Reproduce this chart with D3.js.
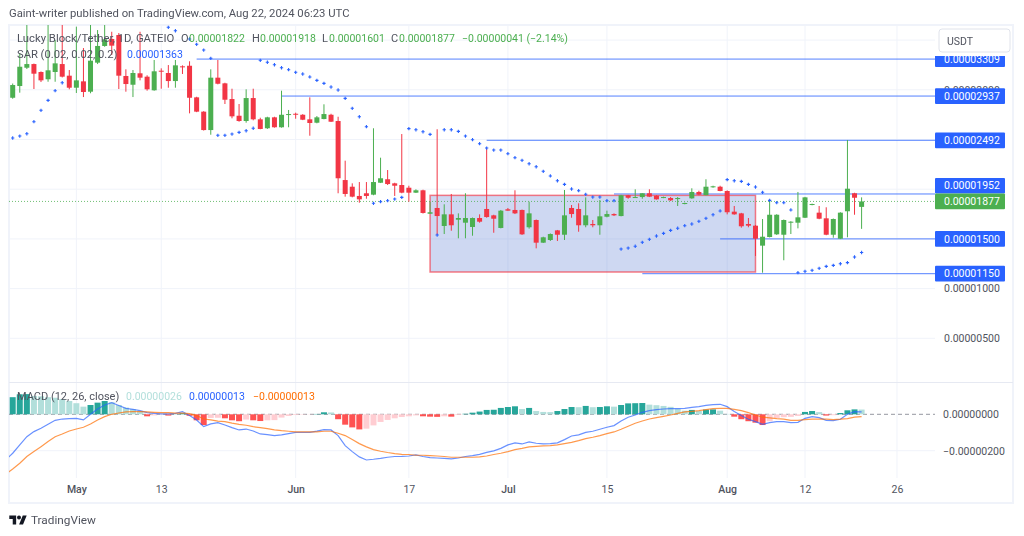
<!DOCTYPE html>
<html>
<head>
<meta charset="utf-8">
<title>Lucky Block/Tether</title>
<script src="https://cdn.jsdelivr.net/npm/d3@7"></script>
<style>
  html, body { margin: 0; padding: 0; background: #fff; }
  svg { display: block; filter: blur(0.4px); }
  text { font-family: Roboto, sans-serif; }
</style>
</head>
<body>
<div id="chart"></div>
<script>
// all prices and MACD values are in units of 0.00000001 USDT
const openValues = [2920,3038,3222,3259,3179,3106,3179,3259,3142,3021,3085,2981,3273,3441,3511,3551,3139,3051,3166,3132,2995,3192,3169,3088,3236,3242,2924,2780,2595,3122,3065,2907,2739,2686,2917,2703,2613,2723,2623,2749,2759,2749,2703,2669,2706,2749,2686,2092,2025,1932,1959,1945,2065,2100,2059,2042,2015,1965,1989,1753,1811,1630,1747,1693,1663,1620,1710,1801,1737,1610,1798,1791,1791,1617,1690,1462,1489,1586,1542,1811,1801,1637,1650,1637,1723,1750,1730,1939,1914,1921,1959,1935,1914,1911,1901,1851,1908,1972,1939,2019,2025,1982,1774,1757,1650,1633,1432,1519,1546,1542,1663,1663,1713,1841,1764,1707,1542,1502,1778,1959,1822];
const highValues = [3063,3370,3652,3264,3185,3652,3501,3652,3199,3635,3420,3652,3601,3652,3584,3571,3206,3199,3584,3146,3300,3216,3249,3300,3246,3287,2930,2785,3206,3300,3071,3011,2857,3005,3011,2719,2729,2729,2991,2797,2770,2755,2924,2736,2854,2759,2729,2287,2059,2072,2072,2613,2317,2193,2065,2555,2035,1999,1995,1874,2603,1848,1952,1757,1959,1715,1747,2411,1743,1791,1811,1989,1795,1874,1695,1522,1555,1590,1992,1841,1858,1918,1690,1891,1784,1757,1943,1943,1999,1959,1999,1940,1925,1921,1921,1865,2009,1985,2100,2035,2035,1988,1831,1762,1710,1640,1700,1891,1748,1695,1678,1972,1923,1855,1831,1818,1705,1768,2495,1964,1918];
const lowValues = [2910,2971,3209,3008,3078,3081,3081,3124,3005,2968,2927,2965,3259,3433,3350,3008,2981,2927,3095,2991,2991,3011,3021,3021,3159,2763,2775,2590,2548,3055,2857,2713,2679,2669,2693,2603,2606,2619,2619,2623,2709,2695,2538,2663,2703,2676,1959,1925,1918,1864,1904,1939,2062,2042,1932,1959,1874,1962,1755,1753,1539,1549,1582,1506,1506,1532,1663,1713,1562,1606,1784,1750,1540,1603,1405,1459,1479,1479,1489,1713,1572,1617,1617,1542,1717,1730,1727,1904,1914,1904,1921,1895,1910,1881,1831,1848,1904,1939,1939,2015,1979,1747,1743,1613,1617,1328,1160,1515,1540,1285,1549,1606,1710,1838,1698,1537,1512,1498,1516,1743,1601];
const closeValues = [3048,3232,3259,3162,3095,3196,3266,3132,3021,3095,2978,3293,3441,3508,3444,3142,3058,3169,3122,3005,3186,3182,3088,3246,3226,2920,2780,2595,3122,3061,2900,2733,2686,2917,2703,2606,2723,2623,2749,2756,2749,2699,2666,2723,2756,2679,2110,1952,1925,1898,1932,2072,2110,2052,2035,1965,1965,1989,1761,1768,1730,1747,1637,1710,1710,1710,1673,1720,1703,1784,1784,1757,1546,1757,1462,1516,1549,1542,1737,1750,1637,1737,1637,1727,1750,1737,1939,1914,1921,1959,1925,1898,1921,1888,1911,1861,1972,1945,2025,2029,1982,1768,1747,1627,1633,1502,1522,1743,1743,1690,1673,1717,1918,1851,1703,1542,1700,1764,2005,1914,1877];

// parabolic SAR, null where no dot can be read
const sarValues = [2515,2535,2558,2679,2794,2894,2991,3071,null,null,null,null,null,null,null,null,null,null,null,null,null,null,3629,3594,null,3511,3458,3400,3317,2542,2542,2555,2572,2588,2613,3297,3277,3252,3222,3202,3176,3159,3129,3095,3065,3028,2998,2914,2814,2729,2629,1858,1874,1884,1901,1918,2609,2598,2578,2552,1539,2598,2598,2582,2535,2498,2458,2414,2394,2394,2357,2317,2291,2256,2226,2180,2133,2085,2049,2002,1985,1949,1921,1921,1884,1884,1398,1408,1426,1466,1496,1529,1556,1586,1607,1633,1650,1677,1707,1743,1781,2096,2085,2079,2049,2022,1969,1888,1864,1864,1791,1160,1174,1184,1204,1224,1234,1250,1261,1318,1363];

const histValues = [94,110,111,101,99,94,91,84,73,61,42,51,64,73,66,51,37,28,18,-11,-6,-2,-7,1,6,-8,-33,-59,-20,-19,-22,-33,-38,-29,-33,-37,-33,-32,-18,-9,-4,-2,-1,2,11,10,-27,-57,-72,-83,-79,-61,-42,-31,-22,-15,-11,-6,-11,-13,-14,-11,-13,-4,3,9,15,24,25,35,40,44,29,35,18,13,12,18,29,40,39,46,39,40,44,42,51,60,61,62,53,50,46,41,31,20,24,18,26,27,20,2,-13,-27,-38,-46,-59,-38,-20,-16,-14,-9,13,18,12,-7,-5,7,22,27,26];
const macdValues = [-214,-168,-123,-95,-77,-55,-33,-26,-24,-22,-31,0,29,51,64,48,33,27,20,9,5,2,2,5,15,-7,-31,-68,-53,-46,-59,-73,-86,-81,-92,-108,-112,-117,-113,-106,-99,-99,-99,-92,-84,-86,-117,-172,-205,-234,-251,-247,-242,-236,-232,-231,-229,-223,-232,-238,-240,-242,-245,-240,-232,-227,-220,-209,-201,-187,-168,-157,-163,-152,-159,-163,-161,-157,-139,-119,-113,-99,-93,-82,-71,-62,-37,-16,-4,11,20,26,29,31,31,33,38,42,49,53,55,42,15,-7,-27,-40,-55,-46,-40,-40,-46,-44,-22,-13,-18,-33,-35,-27,0,15,13];
const signalValues = [-300,-269,-232,-205,-178,-150,-123,-108,-92,-81,-71,-53,-31,-13,0,7,13,15,15,13,11,9,9,7,7,4,-7,-26,-31,-37,-40,-48,-55,-60,-68,-73,-79,-86,-90,-93,-97,-97,-97,-97,-93,-93,-104,-117,-139,-161,-179,-194,-203,-210,-216,-220,-221,-225,-225,-227,-229,-232,-236,-236,-236,-236,-234,-229,-221,-214,-205,-194,-187,-179,-176,-174,-172,-168,-161,-154,-145,-134,-126,-117,-106,-97,-82,-66,-49,-37,-26,-18,-11,-4,5,13,16,20,26,31,33,33,27,20,9,-4,-16,-20,-24,-27,-33,-33,-29,-27,-26,-26,-29,-27,-24,-16,-13];
// the bar just off the left edge, both lines come in from it
const macdBefore = -251;
const signalBefore = -329;

// time axis: bar number of each tick and its label
const timeTickBars = [9,21,40,56,70,84,101,112,125];
const timeTickLabels = ["May","13","Jun","17","Jul","15","Aug","12","26"];
const priceTicks = [500,1000,1500,2000,2500,3000];
const priceTickLabels = [500,1000,3000];
const priceGrid = [500,1000,1500,2000,2500,3000,3500];
const macdTicks = [0,-200];

// drawn levels: price and the bar they start from
const levelValues = [3309,2937,2492,1952,1500,1150];
const levelStartBars = [26,38,67,85,100,89];
// shaded box
const boxBars = [59,105];
const boxPrices = [1938,1167];

const lastPrice = closeValues[closeValues.length - 1];

const width = 1024, height = 536;
const paneLeft = 9, paneRight = 935, paneTop = 25, paneBottom = 382, macdBottom = 478;
const green = "#4caf50", red = "#f23645", blue = "#2962ff", orange = "#ff6d00";
const textColor = "#50535e";

const svg = d3.select("#chart").append("svg")
  .attr("width", width).attr("height", height);

const x = d3.scaleLinear().domain([0, 120]).range([12.7, 861.6]);
const y = d3.scaleLinear().domain([0, 3600]).range([388, 30.16]);
const yMacd = d3.scaleLinear().domain([0, -200]).range([414.3, 450.7]);

const price = v => (v < 0 ? "\u2212" : "") + (Math.abs(v) / 1e8).toFixed(8);

svg.append("rect").attr("x", 9).attr("y", 25).attr("width", 1004).attr("height", 478)
  .attr("fill", "#fff").attr("stroke", "#f0f3fa").attr("stroke-width", 2);

const defs = svg.append("defs");
defs.append("clipPath").attr("id", "pane").append("rect")
  .attr("x", paneLeft).attr("y", paneTop).attr("width", paneRight - paneLeft).attr("height", paneBottom - paneTop);
defs.append("clipPath").attr("id", "macdPane").append("rect")
  .attr("x", paneLeft).attr("y", paneBottom).attr("width", paneRight - paneLeft).attr("height", macdBottom - paneBottom);
defs.append("clipPath").attr("id", "labels").append("rect")
  .attr("x", paneRight).attr("y", 56).attr("width", 78).attr("height", paneBottom - 56);

// grid
const grid = svg.append("g").attr("stroke", "#f0f3fa").attr("stroke-width", 1);
grid.selectAll(".vg").data(timeTickBars).enter().append("line")
  .attr("x1", d => x(d)).attr("x2", d => x(d))
  .attr("y1", paneTop).attr("y2", macdBottom);
grid.selectAll(".hg").data(priceGrid).enter().append("line")
  .attr("x1", paneLeft).attr("x2", paneRight)
  .attr("y1", d => y(d)).attr("y2", d => y(d));
grid.append("line").attr("x1", paneLeft).attr("x2", paneRight)
  .attr("y1", yMacd(-200)).attr("y2", yMacd(-200));
svg.append("line").attr("x1", paneLeft).attr("x2", 1013)
  .attr("y1", 382.5).attr("y2", 382.5).attr("stroke", "#e6e9f2");

// main pane
const main = svg.append("g").attr("clip-path", "url(#pane)");

main.append("rect")
  .attr("x", x(boxBars[0])).attr("y", y(boxPrices[0]))
  .attr("width", x(boxBars[1]) - x(boxBars[0]))
  .attr("height", y(boxPrices[1]) - y(boxPrices[0]))
  .attr("fill", "#3b63cb").attr("fill-opacity", 0.25)
  .attr("stroke", red).attr("stroke-opacity", 0.65).attr("stroke-width", 1.5);

main.append("line")
  .attr("x1", paneLeft).attr("x2", paneRight)
  .attr("y1", y(lastPrice)).attr("y2", y(lastPrice))
  .attr("stroke", green).attr("stroke-opacity", 0.8).attr("stroke-dasharray", "1,2");

main.selectAll(".level").data(levelValues).enter().append("line")
  .attr("x1", (d, i) => x(levelStartBars[i])).attr("x2", paneRight)
  .attr("y1", d => y(d)).attr("y2", d => y(d))
  .attr("stroke", blue).attr("stroke-opacity", 0.8);

const candleColor = i => closeValues[i] >= openValues[i] ? green : red;

main.selectAll(".wick").data(closeValues).enter().append("line")
  .attr("x1", (d, i) => x(i)).attr("x2", (d, i) => x(i))
  .attr("y1", (d, i) => y(highValues[i])).attr("y2", (d, i) => y(lowValues[i]))
  .attr("stroke", (d, i) => candleColor(i));

main.selectAll(".body").data(closeValues).enter().append("rect")
  .attr("x", (d, i) => x(i) - 2.5)
  .attr("width", 5)
  .attr("y", (d, i) => y(Math.max(openValues[i], closeValues[i])))
  .attr("height", (d, i) => Math.max(1, Math.abs(y(openValues[i]) - y(closeValues[i]))))
  .attr("fill", (d, i) => candleColor(i));

const sarPoints = sarValues.map((v, i) => ({ bar: i, value: v })).filter(d => d.value !== null);
main.selectAll(".sar").data(sarPoints).enter().append("path")
  .attr("d", d3.symbol().type(d3.symbolCross).size(6))
  .attr("transform", d => "translate(" + x(d.bar) + "," + y(d.value) + ")")
  .attr("fill", blue);

// MACD pane
const macdPane = svg.append("g").attr("clip-path", "url(#macdPane)");
macdPane.append("line")
  .attr("x1", paneLeft).attr("x2", paneRight)
  .attr("y1", yMacd(0)).attr("y2", yMacd(0))
  .attr("stroke", "#9598a1").attr("stroke-dasharray", "4,3");

const histColor = i => {
  const v = histValues[i], prev = i > 0 ? histValues[i - 1] : 0;
  if (v >= 0) return v >= prev ? "#26a69a" : "#b2dfdb";
  return v < prev ? "#ff5252" : "#ffcdd2";
};
macdPane.selectAll(".hist").data(histValues).enter().append("rect")
  .attr("x", (d, i) => x(i) - 3)
  .attr("width", 6)
  .attr("y", d => Math.min(yMacd(d), yMacd(0)))
  .attr("height", d => Math.abs(yMacd(d) - yMacd(0)))
  .attr("fill", (d, i) => histColor(i));

const macdLine = d3.line().x((d, i) => x(i - 1)).y(d => yMacd(d));
macdPane.append("path").datum([macdBefore].concat(macdValues)).attr("d", macdLine)
  .attr("fill", "none").attr("stroke", blue).attr("stroke-opacity", 0.7).attr("stroke-width", 1.2);
macdPane.append("path").datum([signalBefore].concat(signalValues)).attr("d", macdLine)
  .attr("fill", "none").attr("stroke", orange).attr("stroke-opacity", 0.7).attr("stroke-width", 1.2);

// axes
const timeAxis = svg.append("g")
  .attr("transform", "translate(0," + (macdBottom + 5) + ")")
  .call(d3.axisBottom(x).tickValues(timeTickBars).tickSize(0).tickPadding(3)
    .tickFormat((d, i) => timeTickLabels[i]));
timeAxis.select(".domain").remove();
timeAxis.selectAll("text").attr("fill", textColor).style("font-size", "10.5px")
  .style("font-weight", (d, i) => timeTickLabels[i].length > 2 ? 500 : 400);

const priceAxis = svg.append("g")
  .attr("transform", "translate(" + paneRight + ",0)")
  .call(d3.axisRight(y).tickValues(priceTicks).tickSize(0).tickPadding(9)
    .tickFormat(d => priceTickLabels.includes(d) ? price(d) : ""));
priceAxis.select(".domain").remove();
priceAxis.selectAll("text").attr("fill", textColor).style("font-size", "10.5px");

const macdAxis = svg.append("g")
  .attr("transform", "translate(" + paneRight + ",0)")
  .call(d3.axisRight(yMacd).tickValues(macdTicks).tickSize(0).tickPadding(8)
    .tickFormat(price));
macdAxis.select(".domain").remove();
macdAxis.selectAll("text").attr("fill", textColor).style("font-size", "10.5px");

// price labels on the right, the last price label pushes its neighbour up
const labelH = 15.7;
const labels = svg.append("g").attr("clip-path", "url(#labels)");
const labelY = v => {
  const cy = y(v), lastY = y(lastPrice);
  return Math.abs(cy - lastY) < labelH ? lastY - labelH : cy;
};
const drawLabel = (v, color, cy) => {
  labels.append("rect").attr("x", paneRight).attr("y", cy - labelH / 2)
    .attr("width", 70).attr("height", labelH).attr("rx", 1).attr("fill", color);
  labels.append("text").attr("x", paneRight + 9).attr("y", cy).attr("dy", "0.35em")
    .attr("fill", "#fff").style("font-size", "10.5px").text(price(v));
};
levelValues.forEach(v => drawLabel(v, blue, labelY(v)));
drawLabel(lastPrice, green, y(lastPrice));

// USDT button
svg.append("rect").attr("x", 939).attr("y", 29).attr("width", 71).attr("height", 23).attr("rx", 3)
  .attr("fill", "#fff").attr("stroke", "#e0e3eb");
svg.append("text").attr("x", 947).attr("y", 41).attr("dy", "0.35em")
  .attr("fill", textColor).style("font-size", "10.5px").text("USDT");

// legends
const legend = (px, py, str, color, size) => svg.append("text")
  .attr("x", px).attr("y", py).attr("dy", "0.35em")
  .attr("fill", color).style("font-size", (size || 10.5) + "px").text(str);

legend(9, 13.5, "Gaint-writer published on TradingView.com, Aug 22, 2024 06:23 UTC", textColor, 11.3);
legend(17, 38.5, "Lucky Block/Tether, 1D, GATEIO", textColor, 11.3);
legend(181, 38.5, "O", textColor, 11);
legend(189, 38.5, price(openValues[120]), green);
legend(252, 38.5, "H", textColor, 11);
legend(260, 38.5, price(highValues[120]), green);
legend(322, 38.5, "L", textColor, 11);
legend(329, 38.5, price(lowValues[120]), green);
legend(391, 38.5, "C", textColor, 11);
legend(399, 38.5, price(closeValues[120]), green);
legend(462, 38.5, price(closeValues[120] - 1918) + " (\u22122.14%)", green);
legend(17, 54, "SAR (0.02, 0.02, 0.2)", textColor, 11.2);
legend(127, 54, price(sarValues[120]), blue);
legend(17, 396, "MACD (12, 26, close)", textColor, 11);
legend(126, 396, price(histValues[120]), "#b2dfdb");
legend(189, 396, price(macdValues[120]), blue);
legend(253, 396, price(signalValues[120]), orange);

// footer logo
svg.append("path")
  .attr("d", "M14 22H7V11H0V4h14v18zM28 22h-8l7.5-18h8L28 22z")
  .attr("transform", "translate(9.3,513.5) scale(0.49,0.5)")
  .attr("fill", "#131722");
svg.append("circle").attr("cx", 19).attr("cy", 517.5).attr("r", 2).attr("fill", "#131722");
legend(31, 519.5, "TradingView", textColor, 11.8);
</script>
</body>
</html>
